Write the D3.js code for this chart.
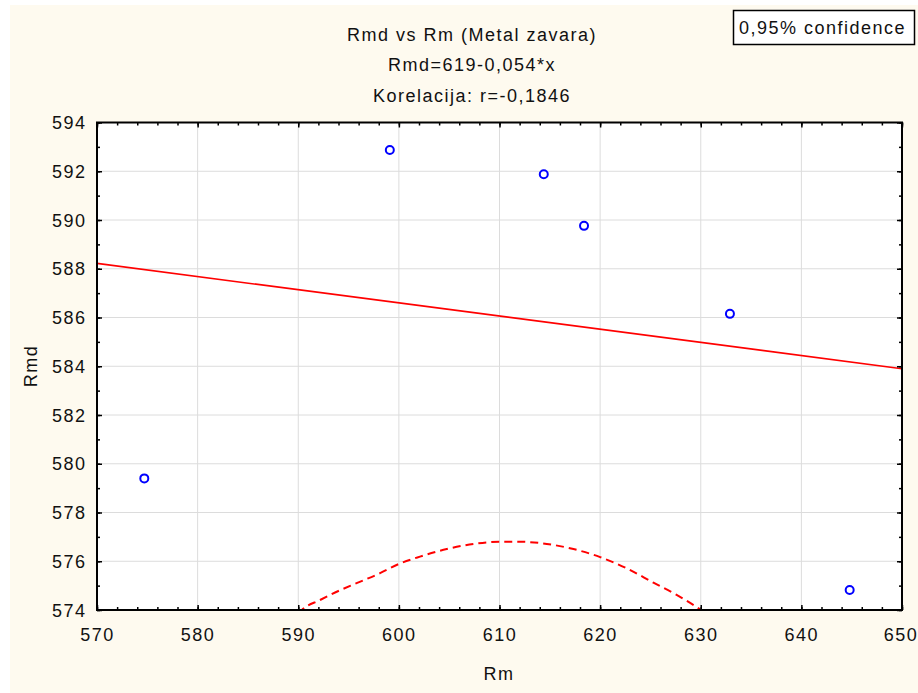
<!DOCTYPE html>
<html><head><meta charset="utf-8">
<script src="https://cdn.jsdelivr.net/npm/d3@7"></script>
<style>
html,body{margin:0;padding:0;background:#fff;}
text{font-family:"Liberation Sans",Arial,sans-serif;fill:#111;letter-spacing:1.5px;}
</style></head>
<body>
<svg id="c" width="918" height="693"></svg>
<script>
// Data
const rm  = [574.7, 599.1, 614.4, 618.4, 632.9, 644.8];
const rmd = [579.4, 592.87, 591.88, 589.76, 586.15, 574.82];
const regIntercept = 619.0;
const regSlope = -0.054;
const bandX = [590.0, 590.35, 592.17, 593.99, 595.8, 598.13, 599.95, 602.1, 604.76, 607.4, 610.06, 612.05, 614.7, 617.35, 620.0, 622.65, 625.3, 627.6, 630.0, 630.5];
const bandY = [573.85, 574.0, 574.41, 574.78, 575.1, 575.51, 575.88, 576.19, 576.5, 576.71, 576.8, 576.8, 576.71, 576.5, 576.17, 575.71, 575.12, 574.62, 574.0, 573.85];
const xTicks = [570, 580, 590, 600, 610, 620, 630, 640, 650];
const yTicks = [574, 576, 578, 580, 582, 584, 586, 588, 590, 592, 594];
const titles = ["Rmd vs Rm (Metal zavara)", "Rmd=619-0,054*x", "Korelacija: r=-0,1846"];
const legendText = "0,95% confidence";

const svg = d3.select("#c");
const L = 97, R = 902, T = 122.5, B = 610;
const x = d3.scaleLinear().domain([570, 650]).range([L, R]);
const y = d3.scaleLinear().domain([574, 594]).range([B, T]);

// background
svg.append("rect").attr("x",10).attr("y",5).attr("width",908).attr("height",688).attr("fill","#fefaef");
svg.append("rect").attr("x",L).attr("y",T).attr("width",R-L).attr("height",B-T).attr("fill","#fff");

// grid
svg.append("g").selectAll("line").data(xTicks.slice(1,-1)).join("line")
  .attr("x1",d=>x(d)).attr("x2",d=>x(d)).attr("y1",T).attr("y2",B)
  .attr("stroke","#dcdcdc").attr("stroke-width",1);
svg.append("g").selectAll("line").data(yTicks.slice(1,-1)).join("line")
  .attr("y1",d=>y(d)).attr("y2",d=>y(d)).attr("x1",L).attr("x2",R)
  .attr("stroke","#dcdcdc").attr("stroke-width",1);

// clip
svg.append("clipPath").attr("id","clip").append("rect").attr("x",L).attr("y",T-1).attr("width",R-L).attr("height",B-T+2);
const plot = svg.append("g").attr("clip-path","url(#clip)");

// regression line
plot.append("line")
  .attr("x1",x(570)).attr("y1",y(regIntercept+regSlope*570))
  .attr("x2",x(650)).attr("y2",y(regIntercept+regSlope*650))
  .attr("stroke","#ff0000").attr("stroke-width",1.6);

// confidence band (lower)
plot.append("path")
  .datum(bandX.map((d,i)=>[d,bandY[i]]))
  .attr("d", d3.line().x(d=>x(d[0])).y(d=>y(d[1])).curve(d3.curveMonotoneX))
  .attr("fill","none").attr("stroke","#ff0000").attr("stroke-width",2)
  .attr("stroke-dasharray","8,5");

// points
svg.append("g").selectAll("circle").data(rm.map((d,i)=>[d,rmd[i]])).join("circle")
  .attr("cx",d=>x(d[0])).attr("cy",d=>y(d[1])).attr("r",4)
  .attr("fill","#fff").attr("stroke","#0000ff").attr("stroke-width",2);

// axes with inward ticks
const minorX = d3.range(570, 650.01, 2);
const minorY = d3.range(574, 594.01, 1);
const axB = d3.axisBottom(x).tickValues(minorX).tickSize(-3).tickFormat("");
const axT = d3.axisTop(x).tickValues(minorX).tickSize(-3).tickFormat("");
const axL = d3.axisLeft(y).tickValues(minorY).tickSize(-3).tickFormat("");
const axR = d3.axisRight(y).tickValues(minorY).tickSize(-3).tickFormat("");
const majB = d3.axisBottom(x).tickValues(xTicks).tickSize(-5).tickFormat("");
const majT = d3.axisTop(x).tickValues(xTicks).tickSize(-5).tickFormat("");
const majL = d3.axisLeft(y).tickValues(yTicks).tickSize(-5).tickFormat("");
const majR = d3.axisRight(y).tickValues(yTicks).tickSize(-5).tickFormat("");
[[axB,`translate(0,${B})`],[axT,`translate(0,${T})`],[axL,`translate(${L},0)`],[axR,`translate(${R},0)`],
 [majB,`translate(0,${B})`],[majT,`translate(0,${T})`],[majL,`translate(${L},0)`],[majR,`translate(${R},0)`]]
 .forEach(([a,t])=>{
   const g = svg.append("g").attr("transform",t).call(a);
   g.select(".domain").remove();
   g.selectAll("line").attr("stroke","#000").attr("stroke-width",1.5);
 });
svg.append("rect").attr("x",L).attr("y",T).attr("width",R-L).attr("height",B-T)
  .attr("fill","none").attr("stroke","#000").attr("stroke-width",2);

// tick labels
svg.append("g").selectAll("text").data(xTicks).join("text")
  .attr("x",(d,i)=>x(d)+(i===xTicks.length-1?-1:0.5)).attr("y",641).attr("text-anchor","middle")
  .style("font-size","18px").text(d=>d);
svg.append("g").selectAll("text").data(yTicks).join("text")
  .attr("x",86.5).attr("y",d=>y(d)+6.5).attr("text-anchor","end")
  .style("font-size","18px").text(d=>d);

// axis titles
svg.append("text").attr("x",499).attr("y",680).attr("text-anchor","middle")
  .style("font-size","18px").text("Rm");
svg.append("text").attr("transform","translate(37,366) rotate(-90)").attr("text-anchor","middle")
  .style("font-size","18px").text("Rmd");

// titles
const ty = [41, 71, 102];
svg.append("g").selectAll("text").data(titles).join("text")
  .attr("x",472).attr("y",(d,i)=>ty[i]).attr("text-anchor","middle")
  .style("font-size","18px").text(d=>d);

// legend
svg.append("rect").attr("x",733.5).attr("y",10.5).attr("width",181).attr("height",34)
  .attr("fill","#fff").attr("stroke","#000").attr("stroke-width",1.5);
svg.append("text").attr("x",739).attr("y",34).style("font-size","18px").text(legendText);
</script>
</body></html>
